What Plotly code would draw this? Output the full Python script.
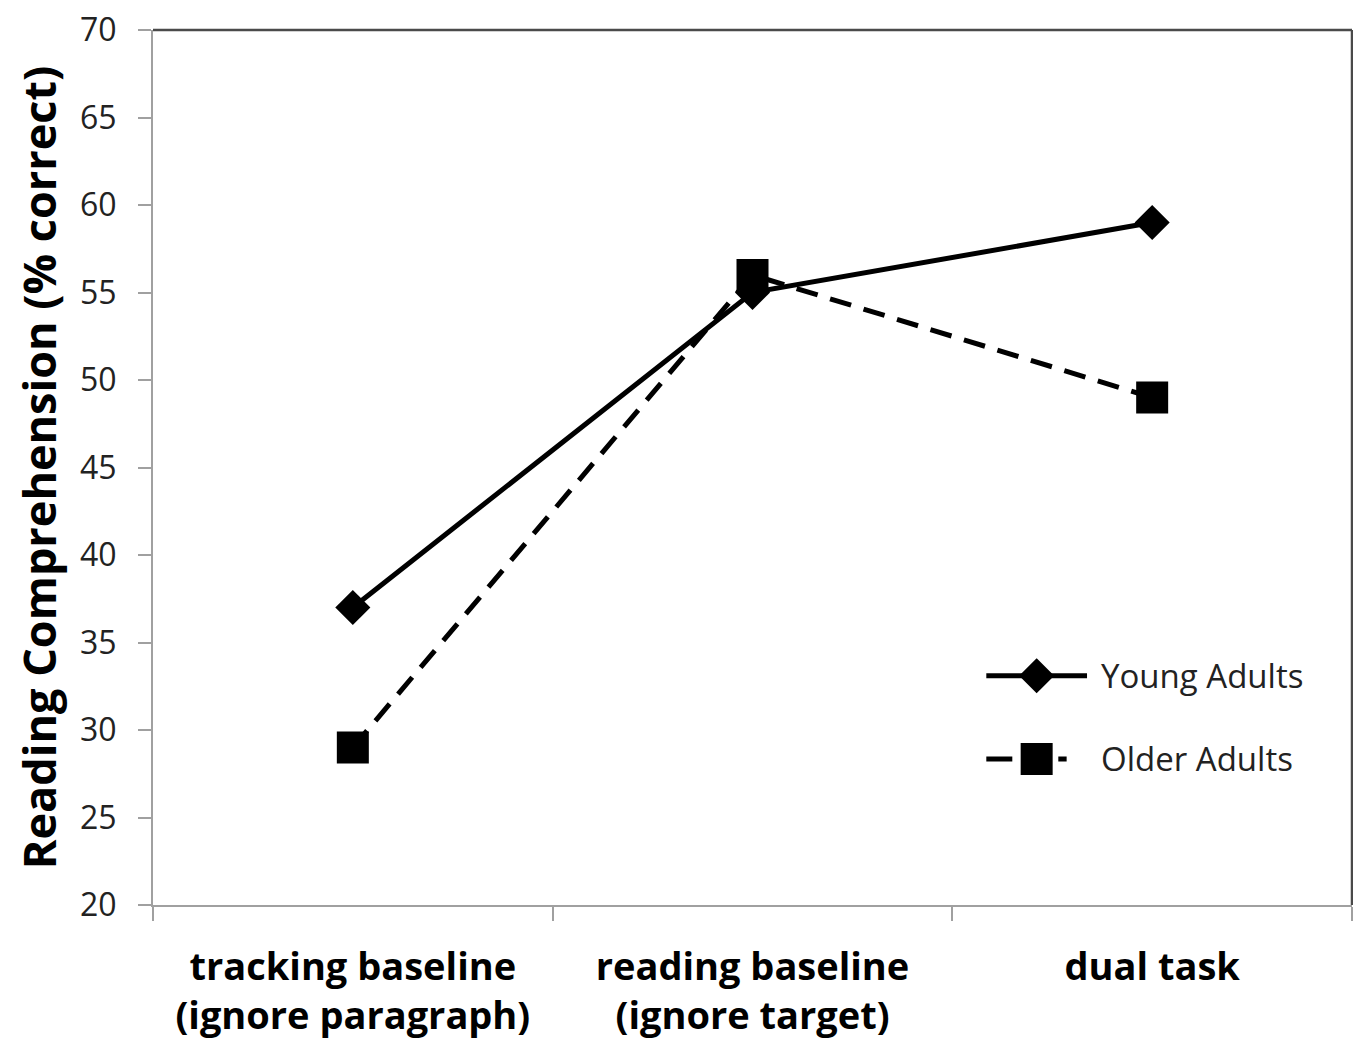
import plotly.graph_objects as go

categories = ["tracking baseline<br>(ignore paragraph)", "reading baseline<br>(ignore target)", "dual task"]
young = [37, 55, 59]
older = [29, 56, 49]
series_names = ["Young Adults", "Older Adults"]
y_ticks = [20, 25, 30, 35, 40, 45, 50, 55, 60, 65, 70]

FONT = "'Open Sans', Lato, sans-serif"
LW = 5

fig = go.Figure()
fig.add_trace(go.Scatter(
    x=categories, y=young, mode="lines+markers", name=series_names[0],
    line=dict(color="black", width=LW),
    marker=dict(symbol="diamond", size=27, color="black"),
    showlegend=False,
))
fig.add_trace(go.Scatter(
    x=categories, y=older, mode="lines+markers", name=series_names[1],
    line=dict(color="black", width=LW, dash="22px,13px"),
    marker=dict(symbol="square", size=32, color="black"),
    showlegend=False,
))

# legend samples on an overlay axis (0..1 over the plot area)
lx0, lx1, lmid, lx1b = 0.695, 0.779, 0.737, 0.762
ly = [0.262, 0.167]
fig.add_trace(go.Scatter(
    x=[lx0, lx1], y=[ly[0], ly[0]], mode="lines", xaxis="x2", yaxis="y2",
    line=dict(color="black", width=LW), showlegend=False, hoverinfo="skip"))
fig.add_trace(go.Scatter(
    x=[lmid], y=[ly[0]], mode="markers", xaxis="x2", yaxis="y2",
    marker=dict(symbol="diamond", size=27, color="black"), showlegend=False, hoverinfo="skip"))
fig.add_trace(go.Scatter(
    x=[lx0, lx1b], y=[ly[1], ly[1]], mode="lines", xaxis="x2", yaxis="y2",
    line=dict(color="black", width=LW, dash="26px,10px"), showlegend=False, hoverinfo="skip"))
fig.add_trace(go.Scatter(
    x=[lmid], y=[ly[1]], mode="markers", xaxis="x2", yaxis="y2",
    marker=dict(symbol="square", size=32, color="black"), showlegend=False, hoverinfo="skip"))

for name, yy in zip(series_names, ly):
    fig.add_annotation(x=0.789, y=yy, xref="paper", yref="paper", text=name,
                       showarrow=False, xanchor="left", yanchor="middle",
                       font=dict(family=FONT, size=33, color="#222"))

# top and right frame lines (darker)
fig.add_shape(type="line", xref="paper", yref="paper", x0=0, x1=1, y0=1, y1=1,
              line=dict(color="#4a4a4a", width=2.5))
fig.add_shape(type="line", xref="paper", yref="paper", x0=1, x1=1, y0=0, y1=1,
              line=dict(color="#4a4a4a", width=2.5))

fig.update_layout(
    width=1345, height=1034,
    margin=dict(l=145, r=1, t=22, b=137),
    paper_bgcolor="white", plot_bgcolor="white",
    font=dict(family=FONT, color="#222"),
    xaxis=dict(
        type="category", tickson="boundaries", ticks="outside", ticklen=14,
        tickcolor="#a0a0a0", tickwidth=2, showline=True, linecolor="#a0a0a0",
        linewidth=2, showgrid=False, zeroline=False, automargin=False,
        tickfont=dict(family=FONT, size=38, color="black", weight="bold"),
        ticklabelstandoff=27,
        range=[-0.5, 2.5],
    ),
    yaxis=dict(
        range=[20, 70], tickvals=y_ticks, ticks="outside", ticklen=13,
        tickcolor="#a0a0a0", tickwidth=2, showline=True, linecolor="#a0a0a0",
        linewidth=2, showgrid=False, zeroline=False, automargin=False,
        tickfont=dict(family=FONT, size=32, color="#222"),
        ticklabelstandoff=15, ticklabeloverflow="allow",
        title=dict(text="Reading Comprehension (% correct)",
                   font=dict(family=FONT, size=45, color="black", weight="bold"),
                   standoff=18),
    ),
    xaxis2=dict(overlaying="x", range=[0, 1], visible=False, fixedrange=True),
    yaxis2=dict(overlaying="y", range=[0, 1], visible=False, fixedrange=True),
)

fig.write_html("out.html")
